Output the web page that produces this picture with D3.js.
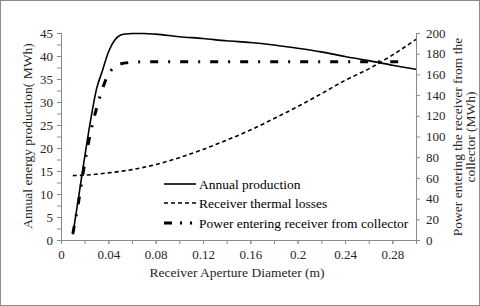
<!DOCTYPE html>
<html><head><meta charset="utf-8">
<script src="https://cdn.jsdelivr.net/npm/d3@7"></script>
<style>
body{margin:0;background:#fff;}
</style></head>
<body><svg id="c" width="480" height="306"></svg>
<script>
// Data
const xProd = [0.01,0.015,0.02,0.025,0.03,0.035,0.04,0.045,0.05,0.055,0.06,0.07,0.08,0.10,0.12,0.14,0.16,0.18,0.20,0.22,0.24,0.26,0.28,0.30];
const annualProduction = [1.2,9.5,18,26,32.8,36.8,40.8,43.3,44.5,44.8,44.9,44.9,44.75,44.2,43.8,43.3,42.95,42.4,41.7,40.9,39.9,39.0,38.0,37.1];
const xLoss = [0.01,0.02,0.04,0.06,0.08,0.10,0.12,0.14,0.16,0.18,0.20,0.22,0.24,0.26,0.28,0.30];
const thermalLosses = [14.0,14.1,14.6,15.3,16.4,17.9,19.7,21.7,23.9,26.4,29.0,31.8,34.7,37.2,40.2,43.6];
const xPower = [0.01,0.015,0.02,0.025,0.03,0.035,0.04,0.045,0.05,0.06,0.07,0.10,0.14,0.18,0.22,0.26,0.292];
const powerEntering = [6,38,74,104,127,146,160,167,170,171.7,172.2,172.3,172.3,172.3,172.3,172.3,172.3];
const xTicks = [0,0.04,0.08,0.12,0.16,0.2,0.24,0.28];
const yLeftTicks = [0,5,10,15,20,25,30,35,40,45];
const yRightTicks = [0,20,40,60,80,100,120,140,160,180,200];
const legendLabels = ["Annual production","Receiver thermal losses","Power entering receiver from collector"];

const FONT = 'Liberation Serif, Times New Roman, Times, Nimbus Roman, Nimbus Roman No9 L, FreeSerif, Noto Serif, DejaVu Serif, serif';
const svg = d3.select("#c");
const L=61, R=416, T=33, B=240;
const x = d3.scaleLinear().domain([0,0.30]).range([L,R]);
const yL = d3.scaleLinear().domain([0,45]).range([B,T]);
const yR = d3.scaleLinear().domain([0,200]).range([B,T]);
const axisColor="#8a8a8a", txtColor="#262626";

svg.append("rect").attr("x",0.5).attr("y",0.5).attr("width",479).attr("height",305)
  .attr("fill","#fff").attr("stroke","#8c8c8c");

function styleAxis(g){
  g.attr("font-family",FONT);
  g.select(".domain").attr("stroke",axisColor);
  g.selectAll(".tick line").attr("stroke",axisColor);
  g.selectAll("text").attr("fill",txtColor).attr("font-size",13).attr("font-family",FONT);
}
// minor ticks
svg.append("g").attr("transform",`translate(0,${B})`)
  .call(d3.axisBottom(x).tickValues(d3.range(0,0.301,0.02)).tickSize(4).tickFormat(""))
  .call(styleAxis);
svg.append("g").attr("transform",`translate(${L},0)`)
  .call(d3.axisLeft(yL).tickValues(d3.range(0,45.1,2.5)).tickSize(4).tickFormat(""))
  .call(styleAxis);
// labeled axes
svg.append("g").attr("transform",`translate(0,${B})`)
  .call(d3.axisBottom(x).tickValues(xTicks).tickSize(4).tickPadding(6).tickFormat(d=>d3.format("")(+d.toFixed(2))))
  .call(styleAxis);
svg.append("g").attr("transform",`translate(${L},0)`)
  .call(d3.axisLeft(yL).tickValues(yLeftTicks).tickSize(4).tickPadding(4))
  .call(styleAxis);
svg.append("g").attr("transform",`translate(${R},0)`)
  .call(d3.axisRight(yR).tickValues(yRightTicks).tickSize(4).tickPadding(6))
  .call(styleAxis);

// lines
const lineL = (xs)=>d3.line().x((d,i)=>x(xs[i])).y(d=>yL(d)).curve(d3.curveMonotoneX);
const lineR = (xs)=>d3.line().x((d,i)=>x(xs[i])).y(d=>yR(d)).curve(d3.curveMonotoneX);
svg.append("path").attr("d",lineL(xLoss)(thermalLosses)).attr("fill","none")
  .attr("stroke","#000").attr("stroke-width",1.6).attr("stroke-dasharray","4,3");
svg.append("path").attr("d",lineR(xPower)(powerEntering)).attr("fill","none")
  .attr("stroke","#000").attr("stroke-width",3).attr("stroke-dasharray","8,10,2,10");
svg.append("path").attr("d",lineL(xProd)(annualProduction)).attr("fill","none")
  .attr("stroke","#000").attr("stroke-width",1.6);

// legend
const lg = svg.append("g");
const rows=[184,203,223];
const styles=[{w:1.6,d:null},{w:1.6,d:"4,3"},{w:3,d:"8,8,2,8,2,8"}];
legendLabels.forEach((t,i)=>{
  const l = lg.append("line").attr("x1",164).attr("x2",196).attr("y1",rows[i]).attr("y2",rows[i])
    .attr("stroke","#000").attr("stroke-width",styles[i].w);
  if(styles[i].d) l.attr("stroke-dasharray",styles[i].d);
  lg.append("text").attr("x",199).attr("y",rows[i]).attr("dy","0.35em")
    .attr("font-size",13.5).attr("font-family",FONT).attr("fill","#000").text(t);
});

// axis titles
svg.append("text").attr("x",237).attr("y",277).attr("text-anchor","middle")
  .attr("font-size",13.5).attr("font-family",FONT).attr("fill",txtColor).text("Receiver Aperture Diameter (m)");
svg.append("text").attr("transform","translate(27,136) rotate(-90)").attr("text-anchor","middle")
  .attr("dy","0.35em").attr("font-size",13.5).attr("font-family",FONT).attr("fill",txtColor).text("Annual energy production( MWh)");
const rt = svg.append("text").attr("transform","translate(457,137) rotate(-90)").attr("text-anchor","middle")
  .attr("font-size",13.5).attr("font-family",FONT).attr("fill",txtColor);
rt.append("tspan").attr("x",0).attr("dy","0.35em").text("Power entering the receiver from the");
rt.append("tspan").attr("x",0).attr("dy","1.0em").text("collector (MWh)");
</script></body></html>
